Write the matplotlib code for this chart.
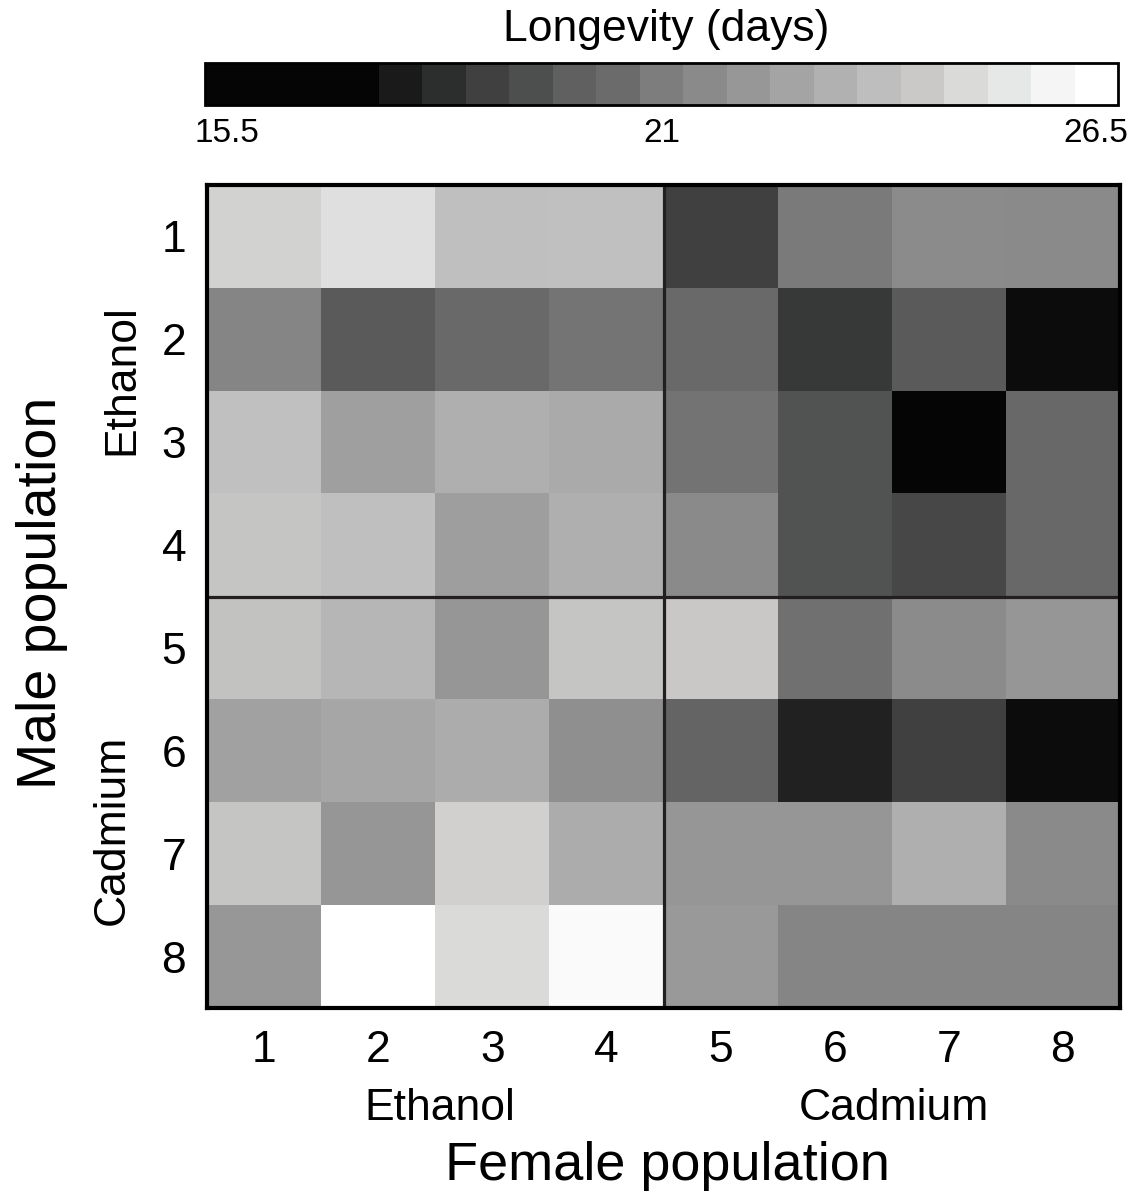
import numpy as np
import matplotlib
matplotlib.use("Agg")
import matplotlib.pyplot as plt
from matplotlib.colors import ListedColormap, LinearSegmentedColormap, Normalize
from matplotlib.cm import ScalarMappable

plt.rcParams['font.family'] = ['Liberation Sans', 'DejaVu Sans']

# Longevity (days) for each male (rows) x female (columns) population cross
male_labels = ['1', '2', '3', '4', '5', '6', '7', '8']
female_labels = ['1', '2', '3', '4', '5', '6', '7', '8']
groups = ['Ethanol', 'Cadmium']

row1 = [24.59, 25.10, 23.80, 23.85, 18.80, 20.94, 21.63, 21.55]
row2 = [21.34, 19.72, 20.40, 20.76, 20.40, 18.60, 19.72, 17.39]
row3 = [23.85, 22.48, 23.16, 22.94, 20.69, 19.47, 16.00, 20.35]
row4 = [24.10, 23.80, 22.44, 23.16, 21.55, 19.47, 19.08, 20.35]
row5 = [23.95, 23.41, 22.06, 24.10, 24.25, 20.60, 21.63, 22.06]
row6 = [22.57, 22.73, 22.99, 21.80, 20.10, 17.90, 18.80, 17.39]
row7 = [24.10, 22.06, 24.53, 22.99, 22.06, 22.06, 23.16, 21.55]
row8 = [22.10, 26.50, 24.85, 26.25, 22.18, 21.34, 21.34, 21.34]

# Colour scale: 21 grey steps centred on 15.5, 16.05, ..., 26.5
scale_start = 15.5
scale_step = 0.55
scale_colors = ['#050505', '#050505', '#050505', '#050505', '#1a1a1a',
                '#2c2e2d', '#404040', '#4d4f4e', '#606060', '#6b6b6b',
                '#7d7d7d', '#8a8a8a', '#979797', '#a4a4a4', '#b1b1b1',
                '#bebebe', '#cac9c7', '#dadad9', '#e6e7e7', '#f4f5f4',
                '#ffffff']
cbar_ticks = [15.5, 21, 26.5]

data = np.array([row1, row2, row3, row4, row5, row6, row7, row8])
n_steps = len(scale_colors)
vmin = scale_start - scale_step / 2
vmax = scale_start + scale_step * (n_steps - 0.5)
norm = Normalize(vmin=vmin, vmax=vmax)

# continuous map through the step centres for the cells
centres = [(scale_start + scale_step * i - vmin) / (vmax - vmin) for i in range(n_steps)]
nodes = [(0.0, scale_colors[0])] + list(zip(centres, scale_colors)) + [(1.0, scale_colors[-1])]
cell_cmap = LinearSegmentedColormap.from_list('longevity', nodes)
step_cmap = ListedColormap(scale_colors)

W, H = 1143, 1198
fig = plt.figure(figsize=(W / 100, H / 100), dpi=100)

def fx(px):
    return px / W

def fy(py):
    return 1 - py / H

ax = fig.add_axes([fx(207), fy(1008), fx(1120) - fx(207), fy(185) - fy(1008)])
ax.imshow(data, cmap=cell_cmap, norm=norm, aspect='auto', interpolation='nearest',
          extent=(-0.5, 7.5, 7.5, -0.5))
ax.axvline(3.5, color='#231f20', lw=2.3)
ax.axhline(3.5, color='#231f20', lw=2.3)
ax.set_xlim(-0.5, 7.5)
ax.set_ylim(7.5, -0.5)
ax.set_xticks(range(len(female_labels)))
ax.set_xticklabels(female_labels)
ax.set_yticks(range(len(male_labels)))
ax.set_yticklabels(male_labels)
ax.tick_params(axis='both', length=0, labelsize=32)
ax.tick_params(axis='x', pad=16)
ax.tick_params(axis='y', pad=15)
for sp in ax.spines.values():
    sp.set_linewidth(3)
    sp.set_color('black')

# group labels
fig.text(fx(440), fy(1108), groups[0], ha='center', va='center', fontsize=32)
fig.text(fx(894), fy(1108), groups[1], ha='center', va='center', fontsize=32)
fig.text(fx(122), fy(380), groups[0], ha='center', va='center', fontsize=32, rotation=90)
fig.text(fx(112), fy(830), groups[1], ha='center', va='center', fontsize=32, rotation=90)

# axis titles
fig.text(fx(667), fy(1166), 'Female population', ha='center', va='center', fontsize=39)
fig.text(fx(42), fy(593), 'Male population', ha='center', va='center', fontsize=40, rotation=90)

# colour bar
cax = fig.add_axes([fx(205), fy(105), fx(1118) - fx(205), fy(63) - fy(105)])
sm = ScalarMappable(norm=norm, cmap=step_cmap)
cb = fig.colorbar(sm, cax=cax, orientation='horizontal', ticks=cbar_ticks)
cb.ax.set_xticklabels(['15.5', '21', '26.5'])
cb.ax.tick_params(length=0, labelsize=24, pad=9)
cb.outline.set_linewidth(2)
fig.text(fx(666), fy(30), 'Longevity (days)', ha='center', va='center', fontsize=32)

fig.savefig('out.png', dpi=100)
